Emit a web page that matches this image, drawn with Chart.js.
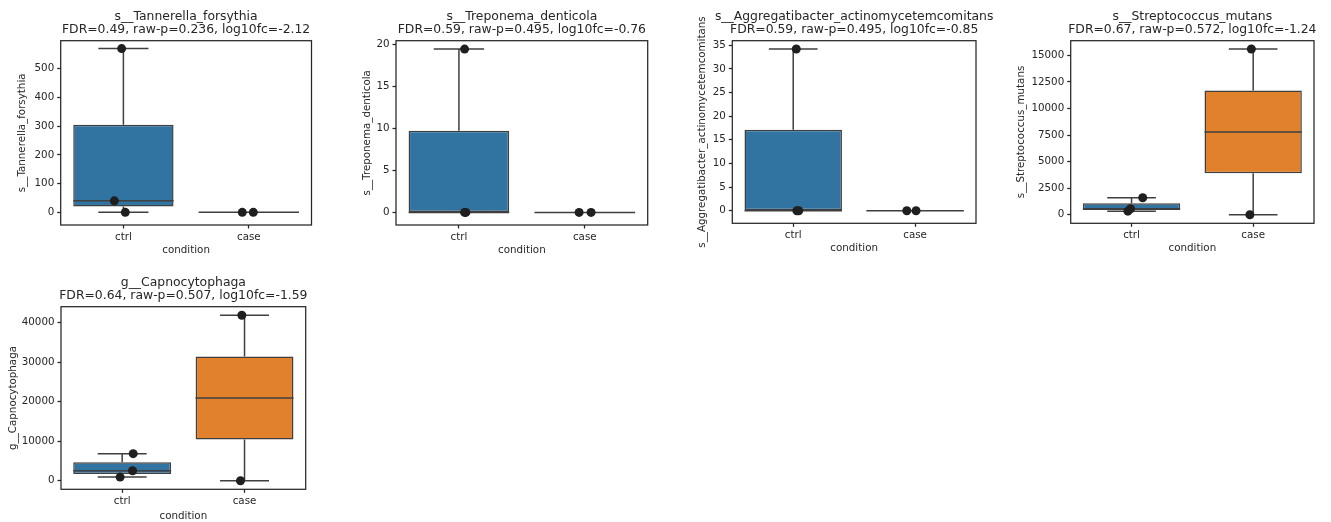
<!DOCTYPE html>
<html><head><meta charset="utf-8">
<script src="https://cdn.jsdelivr.net/npm/chart.js@4"></script>
<style>
html,body{margin:0;padding:0;background:#ffffff;width:1331px;height:522px;overflow:hidden;position:relative;}
canvas{position:absolute;}
</style></head><body>
<script>
// ---------- data ----------
const categories = ['ctrl', 'case'];
const featureNames = ['s__Tannerella_forsythia', 's__Treponema_denticola', 's__Aggregatibacter_actinomycetemcomitans', 's__Streptococcus_mutans', 'g__Capnocytophaga'];
const featureStats = ['FDR=0.49, raw-p=0.236, log10fc=-2.12', 'FDR=0.59, raw-p=0.495, log10fc=-0.76', 'FDR=0.59, raw-p=0.495, log10fc=-0.85', 'FDR=0.67, raw-p=0.572, log10fc=-1.24', 'FDR=0.64, raw-p=0.507, log10fc=-1.59'];

const tannerellaCtrl = [0, 40, 570];
const tannerellaCase = [0, 0];
const treponemaCtrl = [0, 0, 19.4];
const treponemaCase = [0, 0];
const aggregatibacterCtrl = [0, 0, 34.2];
const aggregatibacterCase = [0, 0];
const streptococcusCtrl = [340, 566, 1600];
const streptococcusCase = [0, 15600];
const capnocytophagaCtrl = [940, 2540, 6860];
const capnocytophagaCase = [0, 41900];

// strip-plot jitter (category units) of each point
const tannerellaCtrlJitter = [0.015, -0.072, -0.014];
const tannerellaCaseJitter = [-0.052, 0.036];
const treponemaCtrlJitter = [0.045, 0.055, 0.045];
const treponemaCaseJitter = [-0.045, 0.05];
const aggregatibacterCtrlJitter = [0.03, 0.045, 0.025];
const aggregatibacterCaseJitter = [-0.068, 0.008];
const streptococcusCtrlJitter = [-0.03, -0.008, 0.092];
const streptococcusCaseJitter = [-0.027, -0.015];
const capnocytophagaCtrlJitter = [-0.017, 0.085, 0.09];
const capnocytophagaCaseJitter = [-0.033, -0.022];

const tannerellaTicks = [0, 100, 200, 300, 400, 500];
const treponemaTicks = [0, 5, 10, 15, 20];
const aggregatibacterTicks = [0, 5, 10, 15, 20, 25, 30, 35];
const streptococcusTicks = [0, 2500, 5000, 7500, 10000, 12500, 15000];
const capnocytophagaTicks = [0, 10000, 20000, 30000, 40000];

const tannerellaLimits = [-44, 597.5];
const treponemaLimits = [-1.5, 20.4];
const aggregatibacterLimits = [-2.65, 35.95];
const streptococcusLimits = [-800, 16380];
const capnocytophagaLimits = [-2150, 44050];

// ---------- layout / style ----------
const layoutFrames = [
  {L: 60.7, T: 40.7, R: 311.5, B: 225, ylab: 22.7, xgap: 25.5},
  {L: 396, T: 40.7, R: 647.7, B: 225, ylab: 367.7, xgap: 25.5},
  {L: 732.3, T: 40.7, R: 976, B: 223.3, ylab: 702.7, xgap: 25},
  {L: 1070.7, T: 40.7, R: 1314, B: 223.3, ylab: 1021.7, xgap: 25},
  {L: 61, T: 306.7, R: 305.7, B: 489.3, ylab: 13.3, xgap: 26.7}
];
const TEXT = '#262626', LINE = '#3f3f3f', POINT = '#1f1f1f';
const BOX_COLORS = ['#3274a1', '#e1812c'];
const TITLE_SIZE = 12.4, TITLE_LH = 13.5, TITLE_PT = 4, TITLE_PB = 3.75;
const LABEL_SIZE = 10.3, LABEL_LH = LABEL_SIZE * 1.2;
const TICK_LEN = 3.5;

Chart.defaults.font.family = "'DejaVu Sans', sans-serif";
Chart.defaults.color = TEXT;

const panels = [
  {ctrl: tannerellaCtrl, cas: tannerellaCase, cj: tannerellaCtrlJitter, sj: tannerellaCaseJitter, ticks: tannerellaTicks, lim: tannerellaLimits},
  {ctrl: treponemaCtrl, cas: treponemaCase, cj: treponemaCtrlJitter, sj: treponemaCaseJitter, ticks: treponemaTicks, lim: treponemaLimits},
  {ctrl: aggregatibacterCtrl, cas: aggregatibacterCase, cj: aggregatibacterCtrlJitter, sj: aggregatibacterCaseJitter, ticks: aggregatibacterTicks, lim: aggregatibacterLimits},
  {ctrl: streptococcusCtrl, cas: streptococcusCase, cj: streptococcusCtrlJitter, sj: streptococcusCaseJitter, ticks: streptococcusTicks, lim: streptococcusLimits},
  {ctrl: capnocytophagaCtrl, cas: capnocytophagaCase, cj: capnocytophagaCtrlJitter, sj: capnocytophagaCaseJitter, ticks: capnocytophagaTicks, lim: capnocytophagaLimits}
];

function quantile(arr, p) {
  const s = [...arr].sort((a, b) => a - b);
  const pos = p * (s.length - 1);
  const lo = Math.floor(pos), hi = Math.ceil(pos);
  return s[lo] + (s[hi] - s[lo]) * (pos - lo);
}
function boxStats(g) {
  const q1 = quantile(g, 0.25), med = quantile(g, 0.5), q3 = quantile(g, 0.75);
  const iqr = q3 - q1;
  const inside = g.filter(v => v >= q1 - 1.5 * iqr && v <= q3 + 1.5 * iqr);
  return {q1, med, q3, lo: Math.min(...inside), hi: Math.max(...inside)};
}

panels.forEach((p, idx) => {
  const f = layoutFrames[idx];
  const titleH = TITLE_PT + 2 * TITLE_LH + TITLE_PB;
  const yW = (f.L - f.ylab) + LABEL_LH / 2;
  const xH = f.xgap + LABEL_LH / 2;
  const x0 = f.L - yW, x1 = f.R + yW, y0 = f.T - titleH, y1 = f.B + xH;
  const left = Math.floor(x0), top = Math.floor(y0);
  const width = Math.ceil(x1) - left, height = Math.ceil(y1) - top;

  const cv = document.createElement('canvas');
  cv.width = width; cv.height = height;
  cv.style.left = left + 'px'; cv.style.top = top + 'px';
  cv.style.width = width + 'px'; cv.style.height = height + 'px';
  document.body.appendChild(cv);

  const groups = [p.ctrl, p.cas];
  const jitters = [p.cj, p.sj];
  const stats = groups.map(boxStats);

  const points = [];
  groups.forEach((g, gi) => g.forEach((v, k) => points.push({x: gi + jitters[gi][k], y: v})));

  const boxPlugin = {
    id: 'boxWhiskers' + idx,
    afterDatasetDraw(chart, args) {
      if (args.meta.type !== 'bar') return;
      const ys = chart.scales.y, ctx = chart.ctx;
      const py = v => ys.getPixelForValue(v);
      ctx.save();
      ctx.strokeStyle = LINE; ctx.lineWidth = 1.5; ctx.lineCap = 'butt';
      args.meta.data.forEach((bar, i) => {
        const s = stats[i], cx = bar.x, hw = bar.width / 2, cw = bar.width / 4;
        ctx.beginPath();
        ctx.moveTo(cx, py(s.q3)); ctx.lineTo(cx, py(s.hi));
        ctx.moveTo(cx, py(s.q1)); ctx.lineTo(cx, py(s.lo));
        ctx.moveTo(cx - cw, py(s.hi)); ctx.lineTo(cx + cw, py(s.hi));
        ctx.moveTo(cx - cw, py(s.lo)); ctx.lineTo(cx + cw, py(s.lo));
        ctx.moveTo(cx - hw, py(s.med)); ctx.lineTo(cx + hw, py(s.med));
        ctx.stroke();
      });
      ctx.restore();
    }
  };
  const framePlugin = {
    id: 'frame' + idx,
    beforeDatasetsDraw(chart) {
      const a = chart.chartArea, ctx = chart.ctx;
      ctx.save(); ctx.strokeStyle = TEXT; ctx.lineWidth = 1.25;
      ctx.strokeRect(a.left, a.top, a.right - a.left, a.bottom - a.top);
      ctx.restore();
    }
  };

  new Chart(cv, {
    type: 'bar',
    data: {
      datasets: [
        {
          type: 'bar', order: 2,
          data: stats.map((s, i) => ({x: i, y: [s.q1, s.q3]})),
          backgroundColor: BOX_COLORS, borderColor: LINE, borderWidth: 1.5, borderSkipped: false,
          barPercentage: 0.8, categoryPercentage: 1, xAxisID: 'x', yAxisID: 'y'
        },
        {
          type: 'scatter', order: 1, data: points,
          backgroundColor: POINT, borderWidth: 0, pointRadius: 4.5, pointHoverRadius: 4.5,
          xAxisID: 'x', yAxisID: 'y'
        }
      ]
    },
    options: {
      responsive: false, animation: false, events: [],
      layout: {padding: {left: x0 - left, right: left + width - x1, top: y0 - top, bottom: top + height - y1}},
      plugins: {
        legend: {display: false}, tooltip: {enabled: false},
        title: {
          display: true, text: [featureNames[idx], featureStats[idx]], color: TEXT,
          font: {size: TITLE_SIZE, weight: 'normal', lineHeight: TITLE_LH / TITLE_SIZE},
          padding: {top: TITLE_PT, bottom: TITLE_PB}
        }
      },
      scales: {
        x: {
          type: 'linear', position: 'bottom', min: -0.5, max: 1.5, offset: false,
          grid: {display: true, drawOnChartArea: false, drawTicks: true, tickLength: TICK_LEN, tickColor: TEXT, tickWidth: 1.25, offset: false},
          border: {display: false},
          afterBuildTicks: s => { s.ticks = categories.map((c, i) => ({value: i})); },
          afterFit: s => { s.height = xH; },
          ticks: {autoSkip: false, maxRotation: 0, padding: 2.5, color: TEXT, font: {size: LABEL_SIZE}, callback: v => categories[v]},
          title: {display: true, text: 'condition', color: TEXT, font: {size: LABEL_SIZE, lineHeight: 1.2}, padding: 0}
        },
        y: {
          type: 'linear', position: 'left', min: p.lim[0], max: p.lim[1],
          grid: {display: true, drawOnChartArea: false, drawTicks: true, tickLength: TICK_LEN, tickColor: TEXT, tickWidth: 1.25},
          border: {display: false},
          afterBuildTicks: s => { s.ticks = p.ticks.map(v => ({value: v})); },
          afterFit: s => { s.width = yW; },
          ticks: {autoSkip: false, padding: 3, color: TEXT, font: {size: LABEL_SIZE}, callback: v => String(v)},
          title: {display: true, text: featureNames[idx], color: TEXT, font: {size: LABEL_SIZE, lineHeight: 1.2}, padding: 0}
        },
        yPad: {
          type: 'linear', position: 'right', display: true,
          grid: {display: false}, border: {display: false}, ticks: {display: false},
          afterFit: s => { s.width = yW; }
        }
      }
    },
    plugins: [framePlugin, boxPlugin]
  });
});
</script>
</body></html>
